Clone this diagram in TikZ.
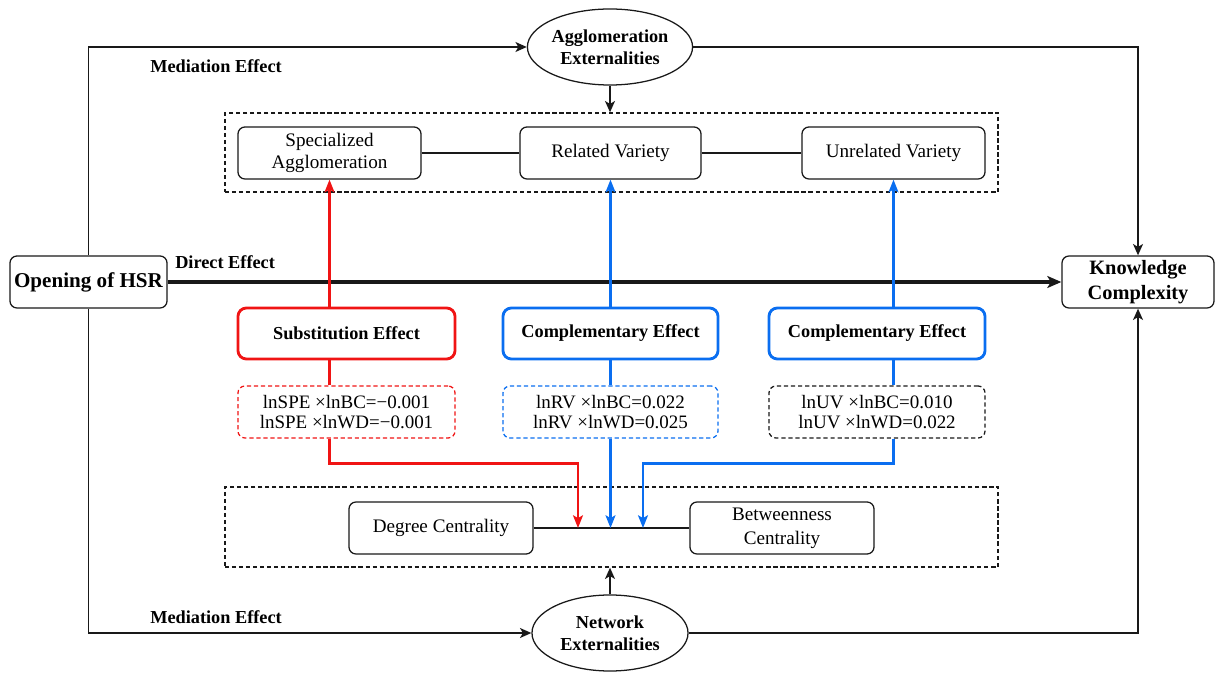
\documentclass[tikz,border=0pt]{standalone}
\usepackage{fontspec}
\setmainfont{Liberation Serif}
\usetikzlibrary{arrows.meta,shapes.geometric,calc}
\definecolor{myred}{RGB}{240,20,20}
\definecolor{myblue}{RGB}{10,110,240}
\definecolor{ink}{RGB}{25,25,25}
\begin{document}
\begin{tikzpicture}[x=0.025cm,y=-0.025cm,
  rbox/.style={draw=ink, line width=0.9pt, rounded corners=5pt, align=center, inner sep=0pt,
    minimum height=1.3cm, font=\fontsize{13.6}{15.5}\selectfont},
  effbox/.style={draw, line width=2pt, rounded corners=6pt, align=center, inner sep=0pt,
    minimum height=1.275cm, font=\fontsize{13}{15}\selectfont\bfseries},
  formbox/.style={draw, line width=0.9pt, dash pattern=on 3pt off 2pt, rounded corners=5pt,
    align=center, inner sep=0pt, minimum height=1.3cm, font=\fontsize{13.5}{14.5}\selectfont},
  dashbox/.style={draw=ink, line width=0.9pt, dash pattern=on 3pt off 2pt, inner sep=0pt,
    minimum width=19.325cm},
  ell/.style={ellipse, draw=ink, line width=0.9pt, inner sep=0pt, minimum width=3.9cm,
    minimum height=1.9cm, align=center, font=\fontsize{13}{15.5}\selectfont\bfseries},
  conn/.style={draw=ink, line width=1.4pt, -{Stealth[length=8pt,width=7pt,inset=2pt]}},
  plain/.style={draw=ink, line width=1.3pt},
  direct/.style={draw=ink, line width=2.3pt, -{Stealth[length=10pt,width=8.5pt,inset=2.5pt]}},
  redln/.style={draw=myred, line width=1.9pt},
  blueln/.style={draw=myblue, line width=1.9pt},
  tip/.style={-{Stealth[length=9pt,width=7pt,inset=2pt]}},
  medlabel/.style={anchor=west, inner sep=0pt, font=\fontsize{13}{15}\selectfont\bfseries}
]
\useasboundingbox (0,0) rectangle (1216,674);

% main nodes
\node[rbox, minimum width=3.925cm, font=\fontsize{15}{17}\selectfont\bfseries] (open) at (88.5,282) {Opening of HSR};
\node[rbox, minimum width=3.8cm, font=\fontsize{14.5}{18}\selectfont\bfseries] (know) at (1138,282) {Knowledge\\Complexity};
\node[ell] (agg) at (610,47) {Agglomeration\\Externalities};
\node[ell] (net) at (610,633) {Network\\Externalities};

% top group
\node[dashbox, minimum height=1.975cm] (topbox) at (611.5,152.5) {};
\node[rbox, minimum width=4.575cm] (spec) at (329.5,153) {Specialized\\Agglomeration};
\node[rbox, minimum width=4.525cm] (rel) at (610.5,153) {Related Variety};
\node[rbox, minimum width=4.575cm] (unrel) at (893.5,153) {Unrelated Variety};
\draw[plain] (spec) -- (rel);
\draw[plain] (rel) -- (unrel);

% effect boxes
\node[effbox, draw=myred, minimum width=5.425cm] (subst) at (346.5,333.5) {Substitution Effect};
\node[effbox, draw=myblue, minimum width=5.375cm] (comp1) at (610.5,333.5) {Complementary Effect};
\node[effbox, draw=myblue, minimum width=5.4cm] (comp2) at (877,333.5) {Complementary Effect};

% formula boxes
\node[formbox, draw=myred, minimum width=5.425cm] (fred) at (346.5,412) {lnSPE ×lnBC=−0.001\\lnSPE ×lnWD=−0.001};
\node[formbox, draw=myblue, minimum width=5.375cm] (fblue) at (610.5,412) {lnRV ×lnBC=0.022\\lnRV ×lnWD=0.025};
\node[formbox, draw=ink, minimum width=5.4cm] (fblack) at (877,412) {lnUV ×lnBC=0.010\\lnUV ×lnWD=0.022};

% bottom group
\node[dashbox, minimum height=2cm] (botbox) at (611.5,527) {};
\node[rbox, minimum width=4.6cm] (deg) at (441,528) {Degree Centrality};
\node[rbox, minimum width=4.6cm, font=\fontsize{13.6}{17}\selectfont] (betw) at (782,528) {Betweenness\\Centrality};
\draw[plain] (deg) -- (betw);
\coordinate (pr) at (578,528);
\coordinate (pb) at (610.5,528);
\coordinate (pb2) at (643,528);

% labels
\node[medlabel] (med1) at (150,66) {Mediation Effect};
\node[medlabel] (med2) at (150,617) {Mediation Effect};
\node[medlabel] (dir) at (175,262) {Direct Effect};

% outer connectors
\draw[conn] (open.north) |- (agg.west);
\draw[conn] (agg.east) -| (know.north);
\draw[conn] (open.south) |- (net.west);
\draw[conn] (net.east) -| (know.south);
\draw[conn] (agg.south) -- (topbox.north -| agg.south);
\draw[conn] (net.north) -- (botbox.south -| net.north);
\draw[direct] (open.east) -- (know.west);

% red path
\draw[redln, tip] (subst.north -| spec.south) -- (spec.south);
\draw[redln] (subst.south -| spec.south) -- (fred.north -| spec.south);
\draw[redln, tip] (fred.south -| spec.south) -- ++(0,25) -| (pr);

% blue middle path
\draw[blueln, tip] (comp1.north) -- (rel.south);
\draw[blueln] (comp1.south) -- (fblue.north);
\draw[blueln, tip] (fblue.south) -- (pb);

% blue right path
\draw[blueln, tip] (comp2.north -| unrel.south) -- (unrel.south);
\draw[blueln] (comp2.south -| unrel.south) -- (fblack.north -| unrel.south);
\draw[blueln, tip] (fblack.south -| unrel.south) -- ++(0,25) -| (pb2);
\end{tikzpicture}
\end{document}
